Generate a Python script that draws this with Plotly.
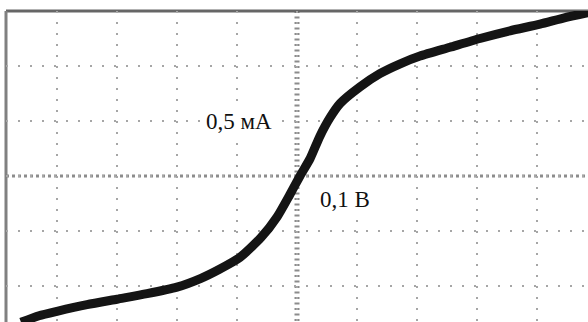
import plotly.graph_objects as go

# Current-voltage trace (0.1 V/div, 0.5 mA/div)
voltage_V = [-0.46, -0.43, -0.40, -0.35, -0.30, -0.25, -0.20, -0.16, -0.13, -0.095,
             -0.06, -0.033, -0.012, 0.005, 0.022, 0.038, 0.055, 0.072, 0.105, 0.138,
             0.172, 0.205, 0.255, 0.305, 0.355, 0.405, 0.447, 0.49]
current_mA = [-1.33, -1.27, -1.23, -1.17, -1.12, -1.07, -1.01, -0.93, -0.85, -0.74,
              -0.56, -0.37, -0.17, 0.0, 0.16, 0.36, 0.53, 0.66, 0.81, 0.93,
              1.02, 1.09, 1.17, 1.25, 1.32, 1.38, 1.44, 1.49]

label_current = "0,5 мА"
label_voltage = "0,1 В"

x_range = [-0.485, 0.485]
y_range = [-1.3273, 1.5]

fig = go.Figure()
fig.add_trace(go.Scatter(
    x=voltage_V, y=current_mA, mode="lines",
    line=dict(color="#141414", width=9, shape="spline", smoothing=0.6),
    hoverinfo="skip", showlegend=False,
))

grid_col = "#a6a6a6"
fig.update_xaxes(range=x_range, dtick=0.1, tick0=0, showgrid=True, gridcolor=grid_col,
                 gridwidth=2, griddash="2px,9px", zeroline=False, showticklabels=False,
                 ticks="", showline=False, fixedrange=True)
fig.update_yaxes(range=y_range, dtick=0.5, tick0=0, showgrid=True, gridcolor=grid_col,
                 gridwidth=2, griddash="2px,10px", zeroline=False, showticklabels=False,
                 ticks="", showline=False, fixedrange=True)

# centre cross lines (denser, heavier dots / tick marks)
fig.add_shape(type="line", xref="x", yref="paper", x0=0, x1=0, y0=1, y1=0,
              line=dict(color="#8c8c8c", width=5, dash="2px,3.5px"), layer="below")
fig.add_shape(type="line", xref="paper", yref="y", x0=0, x1=1, y0=0, y1=0,
              line=dict(color="#8c8c8c", width=3, dash="3px,3px"), layer="below")
# screen border (top and left)
fig.add_shape(type="line", xref="paper", yref="paper", x0=0, x1=1, y0=1, y1=1,
              line=dict(color="#666666", width=3), layer="below")
fig.add_shape(type="line", xref="paper", yref="paper", x0=0, x1=0, y0=0, y1=1,
              line=dict(color="#808080", width=3), layer="below")

fig.add_annotation(x=-0.0967, y=0.5, text=label_current, showarrow=False,
                   font=dict(family="Liberation Serif", size=23, color="#111"),
                   bgcolor="white", xanchor="center", yanchor="middle")
fig.add_annotation(x=0.08, y=-0.21, text=label_voltage, showarrow=False,
                   font=dict(family="Liberation Serif", size=23, color="#111"),
                   bgcolor="white", xanchor="center", yanchor="middle")

fig.update_layout(width=588, height=322, margin=dict(l=6, r=0, t=11, b=0),
                  paper_bgcolor="white", plot_bgcolor="white")

fig.write_html("out.html", config={"displayModeBar": False},
               post_script="document.body.style.margin='0px';document.body.style.overflow='hidden';")
